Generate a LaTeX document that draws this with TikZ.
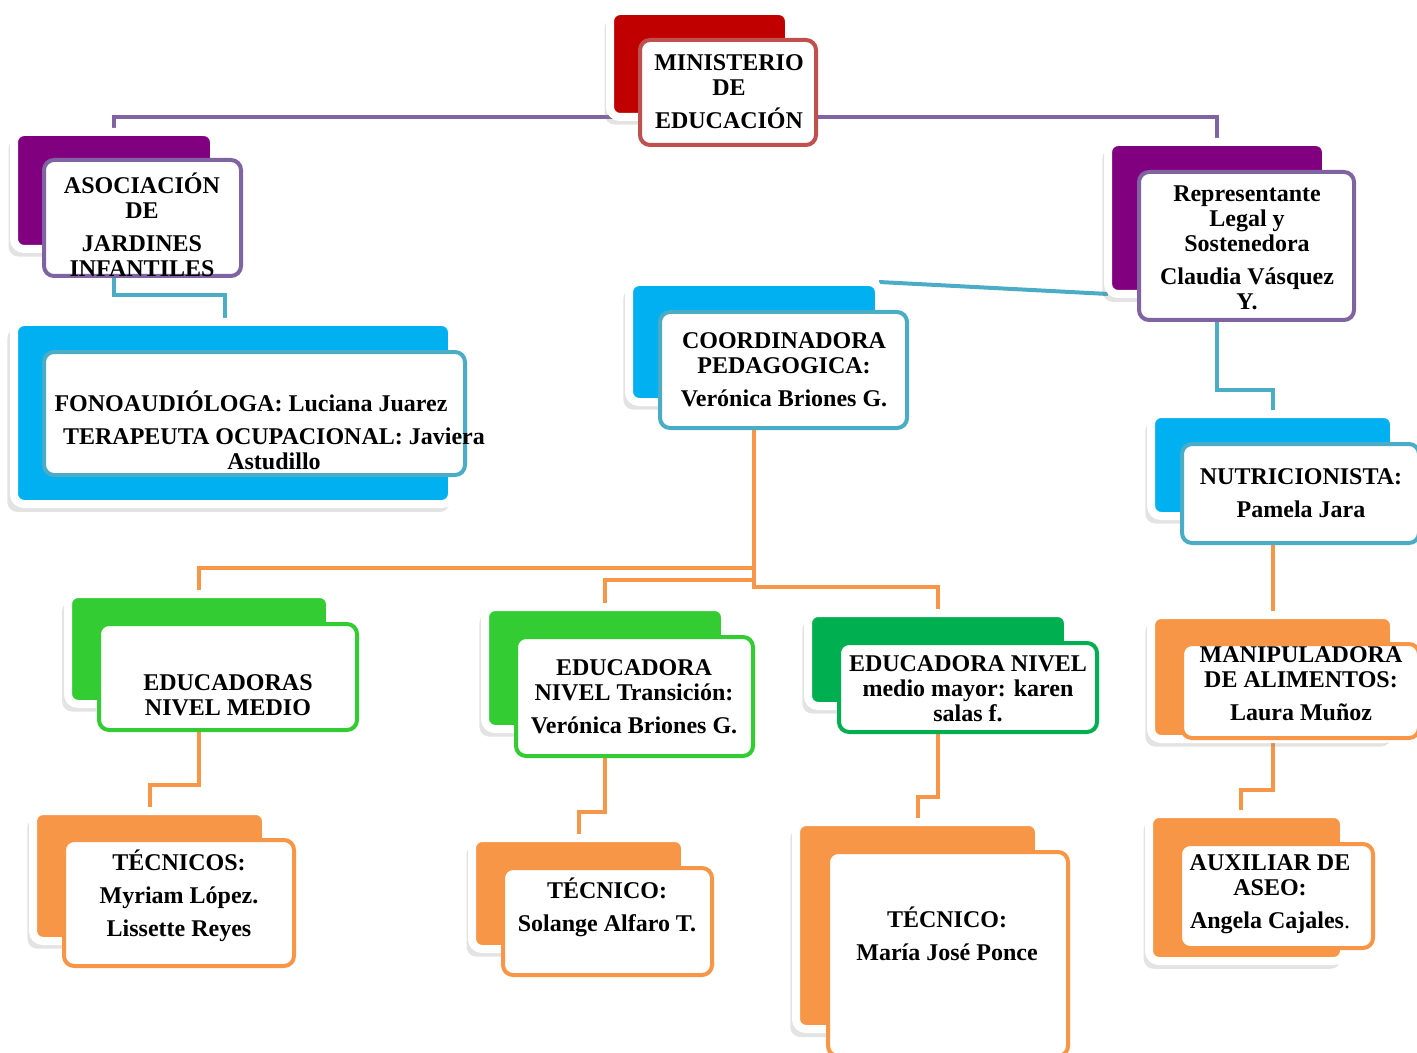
\documentclass[tikz,border=0pt]{standalone}
\usepackage{fontspec}
\setmainfont{Liberation Serif}
\usepackage{xcolor}
\usepackage{tikz}
\usetikzlibrary{shadows, backgrounds, calc}
\definecolor{redB}{HTML}{C00000}
\definecolor{redF}{HTML}{C0504D}
\definecolor{purpleB}{HTML}{800080}
\definecolor{purpleF}{HTML}{8064A2}
\definecolor{cyanB}{HTML}{00B0F0}
\definecolor{tealF}{HTML}{4BACC6}
\definecolor{limeB}{HTML}{33CC33}
\definecolor{greenB}{HTML}{00B050}
\definecolor{orangeB}{HTML}{F79646}
\tikzstyle{backcard} = [rectangle, rounded corners=5pt, draw=white, line width=4pt, inner sep=0pt, outer sep=0pt, drop shadow={shadow xshift=-2.2pt, shadow yshift=-3.5pt, shadow scale=1.01, opacity=0.22}]
\tikzstyle{frontcard} = [rectangle, rounded corners=5pt, fill=white, line width=2pt, inner sep=0pt, outer sep=0pt]
\tikzstyle{cardtext} = [align=center, inner sep=0pt, font=\bfseries\fontsize{12}{12.5}\selectfont]
\tikzstyle{link} = [line width=2pt]

\begin{document}
\begin{tikzpicture}[x=0.5pt, y=-0.5pt]
    \useasboundingbox (0,0) rectangle (1417,1053);
    \clip (0,0) rectangle (1417,1053);

    % top
    \node (minB) [backcard, fill=redB, minimum width=89.5pt, minimum height=53pt] at (699.5,64) {};
    \node (min) [frontcard, draw=redF, minimum width=88pt, minimum height=52.5pt] at (728,92.5) {};
    \node (minT) [cardtext] at (729,92) {MINISTERIO\\DE\\[4pt]EDUCACIÓN};

    % left branch
    \node (asoB) [backcard, fill=purpleB, minimum width=100pt, minimum height=58.5pt] at (114,190.5) {};
    \node (aso) [frontcard, draw=purpleF, minimum width=98.5pt, minimum height=58pt] at (142.5,218) {};
    \node (asoT) [cardtext] at (142,225) {ASOCIACIÓN\\DE\\[4pt]JARDINES\\INFANTILES};

    \node (fonoB) [backcard, fill=cyanB, minimum width=219pt, minimum height=91pt] at (233,413) {};
    \node (fono) [frontcard, draw=tealF, minimum width=210.5pt, minimum height=61.5pt] at (254.5,413.5) {};
    \node (fonoT) [cardtext] at (274,430) {FONOAUDIÓLOGA: Luciana Juarez\hspace*{23pt}\\[4pt]TERAPEUTA OCUPACIONAL: Javiera\\Astudillo};

    % right branch
    \node (repB) [backcard, fill=purpleB, minimum width=109pt, minimum height=76pt] at (1217,218) {};
    \node (rep) [frontcard, draw=purpleF, minimum width=107.5pt, minimum height=74pt] at (1246.5,246) {};
    \node (repT) [cardtext] at (1247,247.5) {Representante\\Legal y\\Sostenedora\\[4pt]Claudia Vásquez\\Y.};

    \node (nutriB) [backcard, fill=cyanB, minimum width=121.5pt, minimum height=51pt] at (1272.5,465) {};
    \node (nutri) [frontcard, draw=tealF, minimum width=118.5pt, minimum height=49.5pt] at (1300.5,493.5) {};
    \node (nutriT) [cardtext] at (1301,493) {NUTRICIONISTA:\\[4pt]Pamela Jara};

    \node (manipB) [backcard, fill=orangeB, minimum width=121.5pt, minimum height=62pt] at (1272.5,677) {};
    \node (manip) [frontcard, draw=orangeB, minimum width=118.5pt, minimum height=47pt] at (1300.5,691) {};
    \node (manipT) [cardtext] at (1301,684) {MANIPULADORA\\DE ALIMENTOS:\\[4pt]Laura Muñoz};

    \node (auxB) [backcard, fill=orangeB, minimum width=97.5pt, minimum height=73.5pt] at (1246.5,887.5) {};
    \node (aux) [frontcard, draw=orangeB, minimum width=96.5pt, minimum height=52pt] at (1276.5,896) {};
    \node (auxT) [cardtext] at (1270,894) {AUXILIAR DE\\ASEO:\\[4pt]Angela Cajales{\mdseries.}};

    % middle branch
    \node (coordB) [backcard, fill=cyanB, minimum width=125pt, minimum height=60pt] at (754,342) {};
    \node (coord) [frontcard, draw=tealF, minimum width=123.5pt, minimum height=58pt] at (783.5,370) {};
    \node (coordT) [cardtext] at (784,370) {COORDINADORA\\PEDAGOGICA:\\[4pt]Verónica Briones G.};

    \node (eduMB) [backcard, fill=limeB, minimum width=131pt, minimum height=55pt] at (199,649) {};
    \node (eduM) [frontcard, draw=limeB, minimum width=129pt, minimum height=53pt] at (228,677) {};
    \node (eduMT) [cardtext] at (228,695) {EDUCADORAS\\NIVEL MEDIO};

    \node (eduTB) [backcard, fill=limeB, minimum width=120pt, minimum height=61pt] at (605,668) {};
    \node (eduT) [frontcard, draw=limeB, minimum width=118.5pt, minimum height=59.5pt] at (634.5,696.5) {};
    \node (eduTT) [cardtext] at (634,697) {EDUCADORA\\NIVEL Transición:\\[4pt]Verónica Briones G.};

    \node (eduMMB) [backcard, fill=greenB, minimum width=130pt, minimum height=46.5pt] at (938,659.5) {};
    \node (eduMM) [frontcard, draw=greenB, minimum width=129pt, minimum height=44.5pt] at (968,687.5) {};
    \node (eduMMT) [cardtext] at (968,688.5) {EDUCADORA NIVEL\\medio mayor: karen\\salas f.};

    \node (tecB) [backcard, fill=orangeB, minimum width=116.5pt, minimum height=65pt] at (149.5,876) {};
    \node (tec) [frontcard, draw=orangeB, minimum width=115pt, minimum height=63pt] at (179,903) {};
    \node (tecT) [cardtext] at (179,895.5) {TÉCNICOS:\\[4pt]Myriam López.\\[4pt]Lissette Reyes};

    \node (solB) [backcard, fill=orangeB, minimum width=106.5pt, minimum height=55.5pt] at (578.5,893.5) {};
    \node (sol) [frontcard, draw=orangeB, minimum width=104.5pt, minimum height=53.5pt] at (607.5,921.5) {};
    \node (solT) [cardtext] at (607,907.5) {TÉCNICO:\\[4pt]Solange Alfaro T.};

    \node (mariaB) [backcard, fill=orangeB, minimum width=121.5pt, minimum height=103.5pt] at (917.5,925.5) {};
    \node (maria) [frontcard, draw=orangeB, minimum width=120pt, minimum height=102pt] at (948,954) {};
    \node (mariaT) [cardtext] at (947,933.5) {TÉCNICO:\\[4pt]María José Ponce};

    \begin{scope}[on background layer]
        \draw [link, draw=purpleF] (asoB.north) |- (minB.south) -| (repB.north);
        \draw [link, draw=tealF] (asoB.south) -- ++(0,46) -| ($(fonoB.north)+(-8,0)$);
        \draw [link, draw=tealF] (coordB.north east) -- (repB.south west);
        \draw [link, draw=tealF] (repB.south) -- ++(0,96) -| (nutriB.north);
        \draw [link, draw=orangeB] (nutriB.south) -- (manipB.north);
        \draw [link, draw=orangeB] (manipB.south) -- ++(0,51) -| ($(auxB.north)+(-6,0)$);
        \draw [link, draw=orangeB] (coordB.south) -- ++(0,166) -| (eduMB.north);
        \draw [link, draw=orangeB] (coordB.south) -- ++(0,178) -| (eduTB.north);
        \draw [link, draw=orangeB] (coordB.south) -- ++(0,185) -| (eduMMB.north);
        \draw [link, draw=orangeB] (eduMB.south) -- ++(0,81) -| (tecB.north);
        \draw [link, draw=orangeB] (eduTB.south) -- ++(0,83) -| (solB.north);
        \draw [link, draw=orangeB] (eduMMB.south) -- ++(0,91) -| (mariaB.north);
    \end{scope}
\end{tikzpicture}
\end{document}
